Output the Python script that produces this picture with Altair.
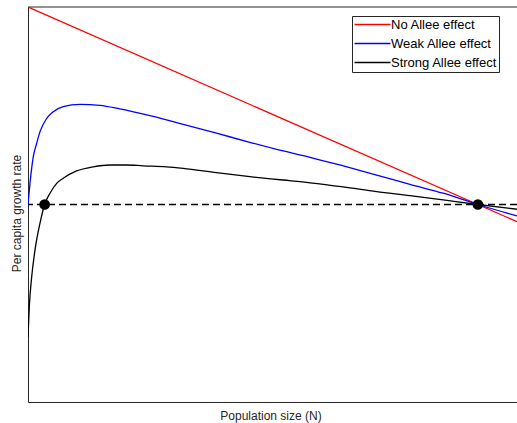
import altair as alt
import pandas as pd

# Series labels and colours
series_names = ["No Allee effect", "Weak Allee effect", "Strong Allee effect"]
series_colors = ["#ff0000", "#0000ff", "#000000"]

# Per capita growth rate against population size (carrying capacity K = 100)
n_none = [0.0, 108.7]
r_none = [1.0, -0.087]

n_weak = [0.0, 0.44, 1.18, 1.93, 2.67, 4.16, 5.62, 7.84, 11.56, 16.0, 20.4,
          27.1, 34.5, 41.9, 49.3, 56.7, 62.7, 70.1, 77.5, 84.9, 92.3, 100.0, 108.7]
r_weak = [0.0, 0.107, 0.242, 0.310, 0.369, 0.436, 0.470, 0.495, 0.507, 0.502, 0.484,
          0.450, 0.406, 0.361, 0.315, 0.271, 0.239, 0.195, 0.149, 0.102, 0.057, 0.0, -0.058]

n_strong = [0.0, 0.29, 0.82, 1.56, 2.67, 3.7, 4.89, 6.38, 7.84, 10.8, 14.5, 18.2,
            21.9, 25.6, 30.8, 34.5, 41.9, 49.3, 56.7, 62.7, 70.1, 77.5, 84.9, 92.3,
            100.0, 108.7]
r_strong = [-0.671, -0.517, -0.366, -0.230, -0.094, 0.0, 0.057, 0.107, 0.133, 0.170,
            0.191, 0.200, 0.200, 0.196, 0.191, 0.183, 0.161, 0.141, 0.124, 0.110,
            0.089, 0.065, 0.045, 0.023, 0.0, -0.024]

# Equilibria marked on the zero-growth line (Allee threshold and K)
equilibria_n = [3.7, 100.0]
equilibria_r = [0.0, 0.0]

curves = pd.concat([
    pd.DataFrame({"N": n_none, "rate": r_none, "series": series_names[0]}),
    pd.DataFrame({"N": n_weak, "rate": r_weak, "series": series_names[1]}),
    pd.DataFrame({"N": n_strong, "rate": r_strong, "series": series_names[2]}),
], ignore_index=True)

points = pd.DataFrame({"N": equilibria_n, "rate": equilibria_r})
zero_line = pd.DataFrame({"rate": [0.0]})

W, H = 489, 395
FONT = "Liberation Sans"
INK = "#262626"

x_scale = alt.Scale(domain=[0, 108.7], nice=False, zero=False)
y_scale = alt.Scale(domain=[-1, 1], nice=False)

x_axis = alt.Axis(
    title="Population size (N)", ticks=False, labels=False, grid=False,
    domainColor=INK, domainWidth=1,
    titleX=242.5, titleY=17, titleBaseline="alphabetic",
    titleFont=FONT, titleFontSize=12, titleFontWeight="normal", titleColor=INK,
)
y_axis = alt.Axis(
    title="Per capita growth rate", ticks=False, labels=False, grid=False,
    domainColor=INK, domainWidth=1,
    titleX=-7.5, titleY=206, titleBaseline="alphabetic",
    titleFont=FONT, titleFontSize=12, titleFontWeight="normal", titleColor=INK,
)

legend = alt.Legend(
    title=None, orient="none", legendX=324, legendY=9,
    symbolType="M-3.6,0H3.6", symbolSize=100, symbolStrokeWidth=1.3,
    symbolOffset=12, labelOffset=12,
    labelFont=FONT, labelFontSize=13, labelColor="#000000",
    padding=2, rowPadding=5,
    strokeColor=INK, fillColor="white",
)

frame_top = alt.Chart(zero_line).mark_rule(color=INK, strokeWidth=1).encode(
    x=alt.value(0), x2=alt.value(W), y=alt.value(0)
)

zero_rule = alt.Chart(zero_line).mark_rule(
    color="#000000", strokeWidth=1.3, strokeDash=[7, 4]
).encode(y=alt.Y("rate:Q", scale=y_scale, axis=y_axis))

lines = alt.Chart(curves).mark_line(
    strokeWidth=1.3, clip=True, interpolate="monotone"
).encode(
    x=alt.X("N:Q", scale=x_scale, axis=x_axis),
    y=alt.Y("rate:Q", scale=y_scale, axis=y_axis),
    color=alt.Color(
        "series:N",
        scale=alt.Scale(domain=series_names, range=series_colors),
        legend=legend,
    ),
)

dots = alt.Chart(points).mark_circle(size=115, color="#000000", opacity=1).encode(
    x=alt.X("N:Q", scale=x_scale),
    y=alt.Y("rate:Q", scale=y_scale),
)

chart = alt.layer(frame_top, zero_rule, lines, dots).properties(
    width=W, height=H,
    autosize=alt.AutoSizeParams(type="none"),
    padding={"left": 28, "top": 7, "right": 0, "bottom": 21},
).configure_view(stroke=None)

chart.save("out.html", embed_options={"renderer": "svg", "actions": False})
